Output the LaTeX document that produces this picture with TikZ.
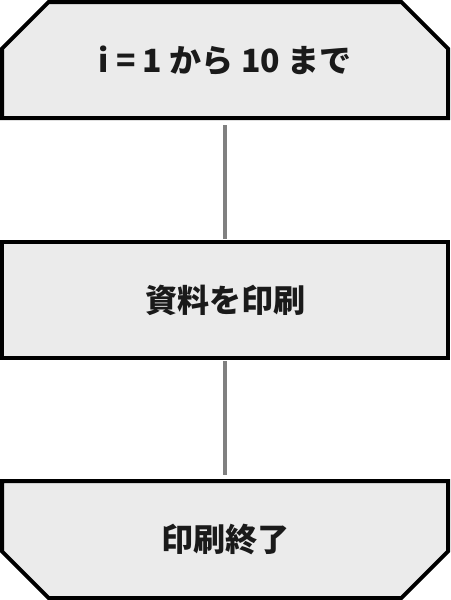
\documentclass[tikz,border=0pt]{standalone}
\usepackage{fontspec}
\setmainfont{Noto Sans CJK JP}
\usepackage{xcolor}
\usepackage{tikz}
\usetikzlibrary{positioning,shapes.misc}

\definecolor{boxfill}{HTML}{EBEBEB}
\definecolor{linkgray}{HTML}{808080}
\definecolor{textblack}{HTML}{1A1A1A}

\begin{document}
\begin{tikzpicture}[
  x=0.75pt, y=0.75pt,
  flowbox/.style={draw, line width=3pt, fill=boxfill, text=textblack,
    minimum width=334.5pt, minimum height=87pt, inner sep=0pt, outer sep=0pt,
    text height=18pt, text depth=0pt,
    font=\fontsize{24}{28}\selectfont\bfseries},
  loopstart/.style={flowbox, chamfered rectangle,
    chamfered rectangle corners={north west,north east},
    chamfered rectangle xsep=26pt, chamfered rectangle ysep=26pt},
  loopend/.style={flowbox, chamfered rectangle,
    chamfered rectangle corners={south west,south east},
    chamfered rectangle xsep=26pt, chamfered rectangle ysep=26pt,
    minimum height=87.75pt},
  link/.style={draw=linkgray, line width=3pt}
]
\useasboundingbox (0,0) rectangle (450,-600);

\node[loopstart] (start) at (225,-60) {i = 1 から 10 まで};
\node[flowbox, below=93pt of start] (print) {資料を印刷};
\node[loopend, below=92.25pt of print] (finish) {印刷終了};

\draw[link, shorten <=5.25pt, shorten >=2.25pt] (start.south) -- (print.north);
\draw[link, shorten <=2.25pt, shorten >=4.5pt] (print.south) -- (finish.north);

\end{tikzpicture}
\end{document}
